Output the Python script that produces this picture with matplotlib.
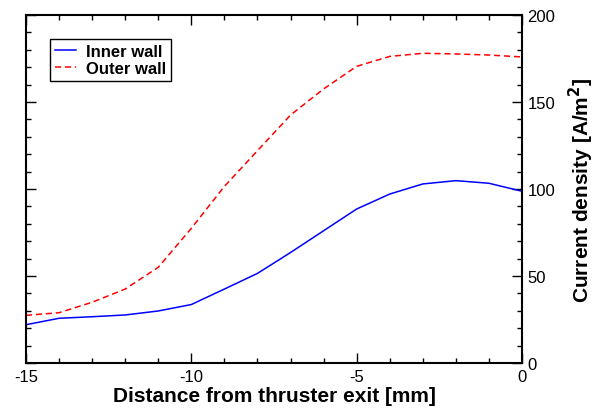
import numpy as np
import matplotlib
matplotlib.use('Agg')
from matplotlib import pyplot as plt
from matplotlib.ticker import MultipleLocator

plt.rcParams['font.family'] = ['Liberation Sans', 'DejaVu Sans']
plt.rcParams['axes.unicode_minus'] = False

# distance from the exit plane [mm]
dist = [-15, -14, -13, -12, -11, -10, -9, -8, -7, -6, -5, -4, -3, -2, -1, 0]
# current density [A/m^2]
inner_wall = [22.0, 25.7, 26.6, 27.6, 29.9, 33.6, 42.5, 51.5, 63.5, 76.0,
              88.5, 97.1, 102.9, 104.8, 103.3, 98.7]
outer_wall = [27.4, 28.9, 34.9, 42.5, 55.0, 77.4, 101.5, 122.0, 142.5, 157.5,
              170.5, 176.2, 178.0, 177.6, 177.0, 175.9]

fig = plt.figure(figsize=(5.95, 4.1), dpi=100)
ax = fig.add_axes([26/595, 1-364/410, 496/595, 348/410])

ax.plot(dist, inner_wall, color='#0000ff', lw=1.1, label='Inner wall')
ax.plot(dist, outer_wall, color='#ff0000', lw=1.1, linestyle=(0, (4, 2.5)),
        label='Outer wall')

ax.set_xlim(-15, 0)
ax.set_ylim(0, 200)
ax.xaxis.set_major_locator(MultipleLocator(5))
ax.xaxis.set_minor_locator(MultipleLocator(1))
ax.yaxis.set_major_locator(MultipleLocator(50))
ax.yaxis.set_minor_locator(MultipleLocator(10))

for s in ax.spines.values():
    s.set_linewidth(1.5)

ax.tick_params(which='both', direction='in', top=True, bottom=True,
               left=True, right=True, labelleft=False, labelright=True,
               labelsize=12, width=1.0, pad=4)
ax.tick_params(which='major', length=7)
ax.tick_params(which='minor', length=3.5)

ax.set_xlabel('Distance from thruster exit [mm]', fontsize=15,
              fontweight='bold', labelpad=2)
ax.yaxis.set_label_position('right')
ax.set_ylabel('Current density [A/m$^\\mathbf{2}$]', fontsize=15,
              fontweight='bold', labelpad=8)

leg = ax.legend(loc='upper left', bbox_to_anchor=(0.048, 0.931),
                prop={'size': 12, 'weight': 'bold'}, fancybox=False,
                framealpha=1, edgecolor='black', handlelength=1.25,
                handletextpad=0.6, labelspacing=0.1, borderpad=0.3,
                borderaxespad=0)
leg.get_frame().set_linewidth(1.0)

fig.savefig('out.png', dpi=100)
